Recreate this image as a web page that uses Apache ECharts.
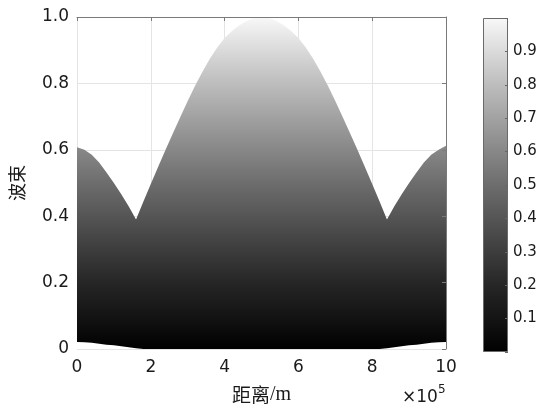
<!DOCTYPE html>
<html>
<head>
<meta charset="utf-8">
<script src="https://cdn.jsdelivr.net/npm/echarts@6/dist/echarts.min.js"></script>
<style>
  html, body { margin: 0; padding: 0; background: #fff; }
  #chart { width: 541px; height: 410px; }
</style>
</head>
<body>
<div id="chart"></div>
<script>
// Distance along track (units of 1e5 m)
const distance = [
  0.0, 0.2, 0.4, 0.6, 0.8, 1.0, 1.2, 1.4, 1.6, 1.8,
  2.0, 2.2, 2.4, 2.6, 2.8, 3.0, 3.2, 3.4, 3.6, 3.8,
  4.0, 4.2, 4.4, 4.6, 4.8, 5.0, 5.2, 5.4, 5.6, 5.8,
  6.0, 6.2, 6.4, 6.6, 6.8, 7.0, 7.2, 7.4, 7.6, 7.8,
  8.0, 8.2, 8.4, 8.6, 8.8, 9.0, 9.2, 9.4, 9.6, 9.8, 10.0
];
// Upper envelope of the beam
const beamUpper = [
  0.608, 0.600, 0.585, 0.562, 0.532, 0.500, 0.466, 0.430, 0.390, 0.444,
  0.497, 0.549, 0.600, 0.650, 0.699, 0.747, 0.793, 0.835, 0.874, 0.908,
  0.937, 0.958, 0.975, 0.988, 0.997, 1.000, 0.997, 0.988, 0.975, 0.958,
  0.937, 0.908, 0.874, 0.835, 0.793, 0.747, 0.699, 0.650, 0.600, 0.549,
  0.497, 0.444, 0.390, 0.430, 0.466, 0.500, 0.532, 0.562, 0.585, 0.600, 0.612
];
// Lower envelope of the beam
const beamLower = [
  0.021, 0.020, 0.019, 0.016, 0.013, 0.011, 0.008, 0.005, 0.002, 0.000,
  0.000, 0.000, 0.000, 0.000, 0.000, 0.000, 0.000, 0.000, 0.000, 0.000,
  0.000, 0.000, 0.000, 0.000, 0.000, 0.000, 0.000, 0.000, 0.000, 0.000,
  0.000, 0.000, 0.000, 0.000, 0.000, 0.000, 0.000, 0.000, 0.000, 0.000,
  0.000, 0.000, 0.002, 0.005, 0.008, 0.011, 0.013, 0.016, 0.019, 0.020, 0.021
];
// Axis ranges and tick steps
const xRange = [0, 10], xStep = 2;
const yRange = [0, 1], yStep = 0.2;
const barRange = [0, 1], barStep = 0.1;

// gray colormap, top (1) to bottom (0)
const grayStops = [
  { offset: 0.0, color: '#f8f8f8' },
  { offset: 0.1, color: '#dadada' },
  { offset: 0.2, color: '#bdbdbd' },
  { offset: 0.3, color: '#a2a2a2' },
  { offset: 0.4, color: '#878787' },
  { offset: 0.5, color: '#6d6d6d' },
  { offset: 0.6, color: '#555555' },
  { offset: 0.7, color: '#3d3d3d' },
  { offset: 0.8, color: '#262626' },
  { offset: 0.9, color: '#141414' },
  { offset: 1.0, color: '#000000' }
];
const grayMap = () => new echarts.graphic.LinearGradient(0, 0, 0, 1, grayStops);

const FONT = 'DejaVu Sans';
const CJK = 'Noto Sans CJK SC';
const AXIS_GRAY = '#7a7a7a';
const GRID_GRAY = '#e4e4e4';

const upperData = distance.map((d, i) => [d, beamUpper[i]]);
const lowerData = distance.map((d, i) => [d, beamLower[i]]);

const chart = echarts.init(document.getElementById('chart'), null, { renderer: 'canvas' });

const option = {
  backgroundColor: '#ffffff',
  animation: false,
  grid: [
    { left: 76, top: 17, width: 370, height: 335 },
    { left: 483, top: 18, width: 25, height: 334 }
  ],
  xAxis: [
    {
      gridIndex: 0, type: 'value', min: xRange[0], max: xRange[1], interval: xStep,
      axisLine: { show: false }, axisTick: { show: false },
      splitLine: { show: true, lineStyle: { color: GRID_GRAY, width: 1 } },
      axisLabel: { margin: 10, fontFamily: FONT, fontSize: 17, color: '#1a1a1a' },
      name: '{cn|距离}{en|/m}',
      nameLocation: 'middle', nameGap: 36,
      nameTextStyle: {
        rich: {
          cn: { fontFamily: CJK, fontSize: 19, color: '#1a1a1a' },
          en: { fontFamily: 'Liberation Serif', fontSize: 20, color: '#1a1a1a' }
        }
      }
    },
    {
      gridIndex: 0, type: 'value', min: xRange[0], max: xRange[1], interval: xStep, z: 10,
      axisLine: { show: true, onZero: false, lineStyle: { color: AXIS_GRAY, width: 1 } },
      axisTick: { show: true, inside: true, length: 4, lineStyle: { color: AXIS_GRAY } },
      splitLine: { show: false }, axisLabel: { show: false }
    },
    {
      gridIndex: 1, type: 'category', data: ['c'], show: false
    }
  ],
  yAxis: [
    {
      gridIndex: 0, type: 'value', min: yRange[0], max: yRange[1], interval: yStep,
      axisLine: { show: false }, axisTick: { show: false },
      splitLine: { show: true, lineStyle: { color: GRID_GRAY, width: 1 } },
      axisLabel: {
        margin: 8, fontFamily: FONT, fontSize: 17, color: '#1a1a1a',
        formatter: v => (v === 0 ? '0' : v.toFixed(1))
      },
      name: '波束',
      nameLocation: 'middle', nameGap: 51, nameRotate: 90,
      nameTextStyle: { fontFamily: CJK, fontSize: 18, color: '#1a1a1a' }
    },
    {
      gridIndex: 0, type: 'value', min: yRange[0], max: yRange[1], interval: yStep, z: 10,
      axisLine: { show: true, onZero: false, lineStyle: { color: AXIS_GRAY, width: 1 } },
      axisTick: { show: true, inside: true, length: 4, lineStyle: { color: AXIS_GRAY } },
      splitLine: { show: false }, axisLabel: { show: false }
    },
    {
      gridIndex: 1, type: 'value', min: barRange[0], max: barRange[1], interval: barStep,
      position: 'right', z: 10,
      axisLine: { show: false },
      axisTick: { show: true, inside: true, length: 3, lineStyle: { color: '#666' } },
      splitLine: { show: false },
      axisLabel: {
        margin: 5, fontFamily: FONT, fontSize: 15, color: '#1a1a1a',
        formatter: v => (v <= 0.001 || v >= 0.999 ? '' : v.toFixed(1))
      }
    }
  ],
  series: [
    {
      name: 'beam',
      type: 'line', xAxisIndex: 0, yAxisIndex: 0,
      data: upperData, symbol: 'none', smooth: false,
      lineStyle: { width: 0 },
      areaStyle: { origin: 'start', color: grayMap(), opacity: 1 },
      z: 2
    },
    {
      name: 'floor',
      type: 'line', xAxisIndex: 0, yAxisIndex: 0,
      data: lowerData, symbol: 'none', smooth: false,
      lineStyle: { width: 0 },
      areaStyle: { origin: 'start', color: '#ffffff', opacity: 1 },
      z: 3
    },
    {
      name: 'colorbar',
      type: 'bar', xAxisIndex: 2, yAxisIndex: 2,
      data: [barRange[1]], barWidth: '100%',
      itemStyle: { color: grayMap(), borderColor: '#6a6a6a', borderWidth: 1 },
      z: 2
    }
  ],
  graphic: [
    {
      type: 'text', left: 402, top: 384,
      style: {
        text: '{t|×10}{s|5}',
        rich: {
          t: { fontFamily: FONT, fontSize: 17, fill: '#1a1a1a', verticalAlign: 'bottom', lineHeight: 22 },
          s: { fontFamily: FONT, fontSize: 12, fill: '#1a1a1a', verticalAlign: 'top', lineHeight: 22, padding: [0, 0, 8, 0] }
        }
      }
    }
  ]
};

chart.setOption(option);
</script>
</body>
</html>
